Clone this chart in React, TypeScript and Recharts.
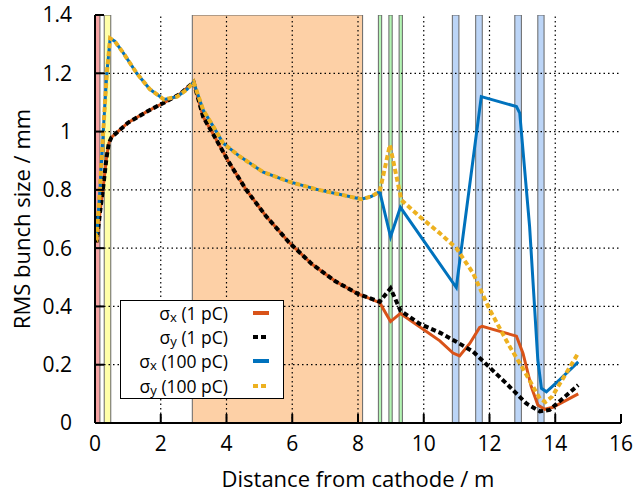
import { LineChart, Line, XAxis, YAxis, ReferenceArea, ReferenceLine, Legend } from "recharts";

const FONT = "'Open Sans', sans-serif";

// shared part of the 1 pC beam (σx and σy overlap up to ~8.7 m)
const lowCommon = [
  [0, 0.71], [0.05, 0.62], [0.15, 0.72], [0.25, 0.81], [0.35, 0.91], [0.42, 0.96], [0.5, 0.98],
  [0.6, 0.99], [1.0, 1.03], [1.6, 1.07], [2.2, 1.105], [2.6, 1.13], [3.0, 1.17],
  [3.29, 1.05], [3.6, 0.99], [3.9, 0.93], [4.1, 0.89], [4.6, 0.8], [5.2, 0.71], [5.9, 0.62],
  [6.6, 0.545], [7.3, 0.487], [8.0, 0.443], [8.14, 0.437],
];
const sx1Tail = [
  [8.66, 0.413], [8.99, 0.348], [9.29, 0.376], [10.49, 0.282], [10.89, 0.24], [11.09, 0.23],
  [11.4, 0.273], [11.7, 0.328], [11.78, 0.332], [12.82, 0.298], [13.02, 0.239], [13.27, 0.125],
  [13.47, 0.062], [13.68, 0.047], [13.93, 0.054], [14.7, 0.1],
];
const sy1Tail = [
  [8.66, 0.416], [8.99, 0.462], [9.29, 0.386], [9.88, 0.34], [10.49, 0.31], [10.99, 0.279],
  [11.5, 0.245], [12.51, 0.136], [13.12, 0.067], [13.53, 0.04], [13.83, 0.045], [14.7, 0.13],
];

// shared part of the 100 pC beam
const highCommon = [
  [0, 0.65], [0.05, 0.64], [0.15, 0.8], [0.25, 1.0], [0.36, 1.2], [0.46, 1.32], [0.6, 1.31],
  [0.86, 1.27], [1.27, 1.2], [1.67, 1.145], [2.1, 1.11], [2.5, 1.12], [2.8, 1.145], [3.0, 1.17],
  [3.29, 1.074], [3.6, 1.017], [3.9, 0.96], [4.4, 0.915], [5.1, 0.862], [5.9, 0.828],
  [6.8, 0.8], [7.5, 0.783], [8.1, 0.768], [8.4, 0.777],
];
const sx100Tail = [
  [8.66, 0.794], [8.99, 0.639], [9.29, 0.74], [10.99, 0.465], [11.75, 1.12], [12.82, 1.086],
  [12.92, 1.063], [13.22, 0.674], [13.47, 0.216], [13.58, 0.119], [13.73, 0.107], [14.13, 0.148],
  [14.7, 0.21],
];
const sy100Tail = [
  [8.66, 0.794], [8.97, 0.954], [9.32, 0.765], [9.88, 0.708], [10.49, 0.651], [10.99, 0.6],
  [11.5, 0.514], [12.0, 0.39], [12.6, 0.265], [13.0, 0.19], [13.53, 0.084], [13.7, 0.072],
  [13.9, 0.09], [14.7, 0.24],
];

const toPts = (a: number[][]) => a.map(([x, y]) => ({ x, y }));

const SERIES = [
  { key: "sx1", sub: "x", charge: "(1 pC)", color: "#d95319", width: 3, dash: undefined, data: toPts([...lowCommon, ...sx1Tail]) },
  { key: "sy1", sub: "y", charge: "(1 pC)", color: "#000000", width: 4, dash: "5 3", data: toPts([...lowCommon, ...sy1Tail]) },
  { key: "sx100", sub: "x", charge: "(100 pC)", color: "#0072bd", width: 3, dash: undefined, data: toPts([...highCommon, ...sx100Tail]) },
  { key: "sy100", sub: "y", charge: "(100 pC)", color: "#edb120", width: 4, dash: "5 3", data: toPts([...highCommon, ...sy100Tail]) },
];

// beamline elements shaded in the background: [start, end, colour]
const bands: [number, number, string][] = [
  [0, 0.15, "#f5a3a3"],
  [0.28, 0.48, "#ffffa8"],
  [2.96, 8.14, "#fdd0a6"],
  [8.62, 8.72, "#b3f5b3"],
  [8.94, 9.04, "#b3f5b3"],
  [9.25, 9.35, "#b3f5b3"],
  [10.87, 11.07, "#bcd5f7"],
  [11.58, 11.78, "#bcd5f7"],
  [12.77, 12.97, "#bcd5f7"],
  [13.47, 13.66, "#bcd5f7"],
];

const xTicks = [0, 2, 4, 6, 8, 10, 12, 14, 16];
const yTicks = [0, 0.2, 0.4, 0.6, 0.8, 1, 1.2, 1.4];
const xGrid = [2, 4, 6, 8, 10, 12, 14];
const yGrid = [0.2, 0.4, 0.6, 0.8, 1, 1.2];

const axisLine = { stroke: "#000", strokeWidth: 2 };
const tickStyle = { fill: "#000", fontSize: 21, fontFamily: FONT };

function LegendBox() {
  return (
    <div
      style={{
        boxSizing: "border-box",
        width: 164,
        height: 99,
        border: "1.5px solid #000",
        background: "#fff",
        fontFamily: FONT,
        fontSize: 17.5,
        color: "#000",
      }}
    >
      {SERIES.map((s) => (
        <div key={s.key} style={{ display: "flex", alignItems: "center", height: 24.2 }}>
          <div style={{ width: 107, height: 20, textAlign: "right", whiteSpace: "nowrap", lineHeight: "20px" }}>
            σ<sub style={{ fontSize: "0.75em", verticalAlign: "-0.18em", lineHeight: 0 }}>{s.sub}</sub> {s.charge}
          </div>
          <svg width={16} height={6} style={{ marginLeft: 25 }}>
            <line x1={0} y1={3} x2={16} y2={3} stroke={s.color} strokeWidth={4} strokeDasharray={s.dash} />
          </svg>
        </div>
      ))}
    </div>
  );
}

export default function App() {
  return (
    <div style={{ position: "absolute", left: 0, top: 0, background: "#fff" }}>
      <LineChart width={633} height={493} margin={{ top: 15, right: 12, bottom: 0, left: 0 }} style={{ fontFamily: FONT }}>
        <XAxis
          dataKey="x"
          type="number"
          domain={[0, 16]}
          ticks={xTicks}
          allowDataOverflow
          height={70}
          tickSize={-9}
          tickMargin={22}
          axisLine={axisLine}
          tickLine={axisLine}
          tick={tickStyle}
          label={{ value: "Distance from cathode / m", position: "insideBottom", offset: 6, fill: "#000", fontSize: 22, fontFamily: FONT }}
        />
        <XAxis
          xAxisId="top"
          orientation="top"
          type="number"
          domain={[0, 16]}
          ticks={xTicks}
          height={0}
          tickSize={-9}
          axisLine={axisLine}
          tickLine={axisLine}
          tick={false}
        />
        <YAxis
          type="number"
          domain={[0, 1.4]}
          ticks={yTicks}
          allowDataOverflow
          width={95}
          tickSize={-9}
          tickMargin={32}
          axisLine={axisLine}
          tickLine={axisLine}
          tick={tickStyle}
          label={{
            value: "RMS bunch size / mm",
            angle: -90,
            position: "insideLeft",
            offset: 22,
            fill: "#000",
            fontSize: 22,
            fontFamily: FONT,
            style: { textAnchor: "middle" },
          }}
        />
        <YAxis
          yAxisId="right"
          orientation="right"
          type="number"
          domain={[0, 1.4]}
          ticks={yTicks}
          width={0}
          tickSize={-9}
          axisLine={axisLine}
          tickLine={axisLine}
          tick={false}
        />
        {bands.map(([a, b, c], i) => (
          <ReferenceArea key={"b" + i} x1={a} x2={b} fill={c} fillOpacity={1} stroke="#666" strokeWidth={1} ifOverflow="hidden" />
        ))}
        {xGrid.map((v) => (
          <ReferenceLine key={"gx" + v} x={v} stroke="#000" strokeWidth={1.2} strokeDasharray="1.5 3" />
        ))}
        {yGrid.map((v) => (
          <ReferenceLine key={"gy" + v} y={v} stroke="#000" strokeWidth={1.2} strokeDasharray="1.5 3" />
        ))}
        {SERIES.map((s) => (
          <Line
            key={s.key}
            data={s.data}
            dataKey="y"
            type="linear"
            stroke={s.color}
            strokeWidth={s.width}
            strokeDasharray={s.dash}
            dot={false}
            activeDot={false}
            isAnimationActive={false}
          />
        ))}
        <Legend
          layout="horizontal"
          verticalAlign="middle"
          align="center"
          wrapperStyle={{ left: 120, top: 300, width: 164 }}
          content={() => <LegendBox />}
        />
      </LineChart>
    </div>
  );
}
